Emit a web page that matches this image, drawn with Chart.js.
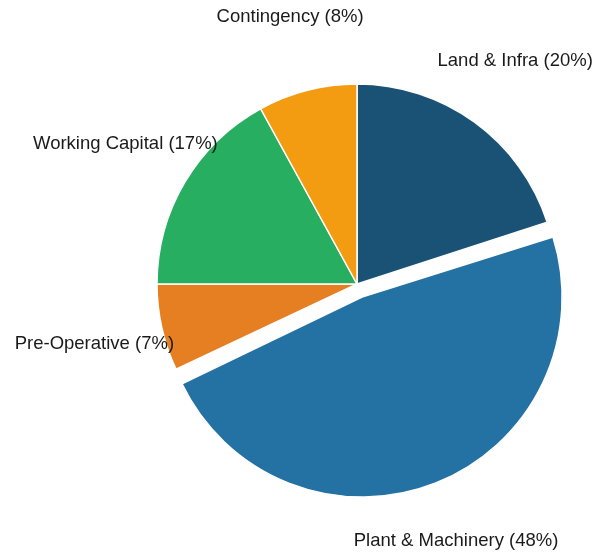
<!DOCTYPE html>
<html>
<head>
<meta charset="utf-8">
<script src="https://cdn.jsdelivr.net/npm/chart.js@4.4.1/dist/chart.umd.min.js"></script>
<style>
  html, body { margin: 0; padding: 0; background: #fff; }
  #wrap { width: 595px; height: 557px; position: relative; }
</style>
</head>
<body>
<div id="wrap"><canvas id="pieChart"></canvas></div>
<script>
// 차트 데이터
const categories = ['Land & Infra', 'Plant & Machinery', 'Pre-Operative', 'Working Capital', 'Contingency'];
const shares = [20, 48, 7, 17, 8];
const colors = ['#1a5276', '#2471a3', '#e67e22', '#27ae60', '#f39c12'];
const explode = [0, 1, 0, 0, 0]; // 분리된 조각

const EXPLODE_OFFSET = 56; // Chart.js는 offset의 1/4만큼 이동

// 분리된 조각의 반지름 보정 (Chart.js는 offset만큼 반지름도 키움)
const keepRadius = {
  id: 'keepRadius',
  afterDatasetUpdate(chart, args) {
    const meta = args.meta;
    meta.data.forEach((arc, i) => {
      const off = explode[i] * EXPLODE_OFFSET / 4;
      if (!off) return;
      const fix = 1 - Math.sin(Math.min(Math.PI, arc.circumference || 0));
      arc.outerRadius = meta.controller.outerRadius - off * fix;
    });
  },
};

// 바깥 라벨 그리기
const outerLabels = {
  id: 'outerLabels',
  afterDraw(chart) {
    const ctx = chart.ctx;
    const meta = chart.getDatasetMeta(0);
    const radius = meta.controller.outerRadius;
    ctx.save();
    ctx.font = '18.5px "Liberation Sans", Arial, sans-serif';
    ctx.fillStyle = '#1a1a1a';
    ctx.textAlign = 'center';
    ctx.textBaseline = 'middle';
    meta.data.forEach((arc, i) => {
      const p = arc.getProps(['x', 'y', 'startAngle', 'endAngle'], true);
      const mid = (p.startAngle + p.endAngle) / 2;
      const dist = radius * 1.38;
      const tx = p.x + Math.cos(mid) * dist * 0.975;
      const ty = p.y + Math.sin(mid) * dist;
      ctx.fillText(`${categories[i]} (${shares[i]}%)`, tx, ty);
    });
    ctx.restore();
  },
};

new Chart(document.getElementById('pieChart').getContext('2d'), {
  type: 'pie',
  data: {
    labels: categories,
    datasets: [
      {
        data: shares,
        backgroundColor: colors,
        borderColor: '#fff',
        borderWidth: 1.5,
        offset: explode.map((e) => e * EXPLODE_OFFSET),
      },
    ],
  },
  options: {
    responsive: true,
    maintainAspectRatio: false,
    animation: false,
    radius: 200,
    layout: { padding: { left: 119, right: 0, top: 11, bottom: 0 } },
    plugins: {
      legend: { display: false },
      tooltip: { enabled: false },
    },
  },
  plugins: [keepRadius, outerLabels],
});
</script>
</body>
</html>
